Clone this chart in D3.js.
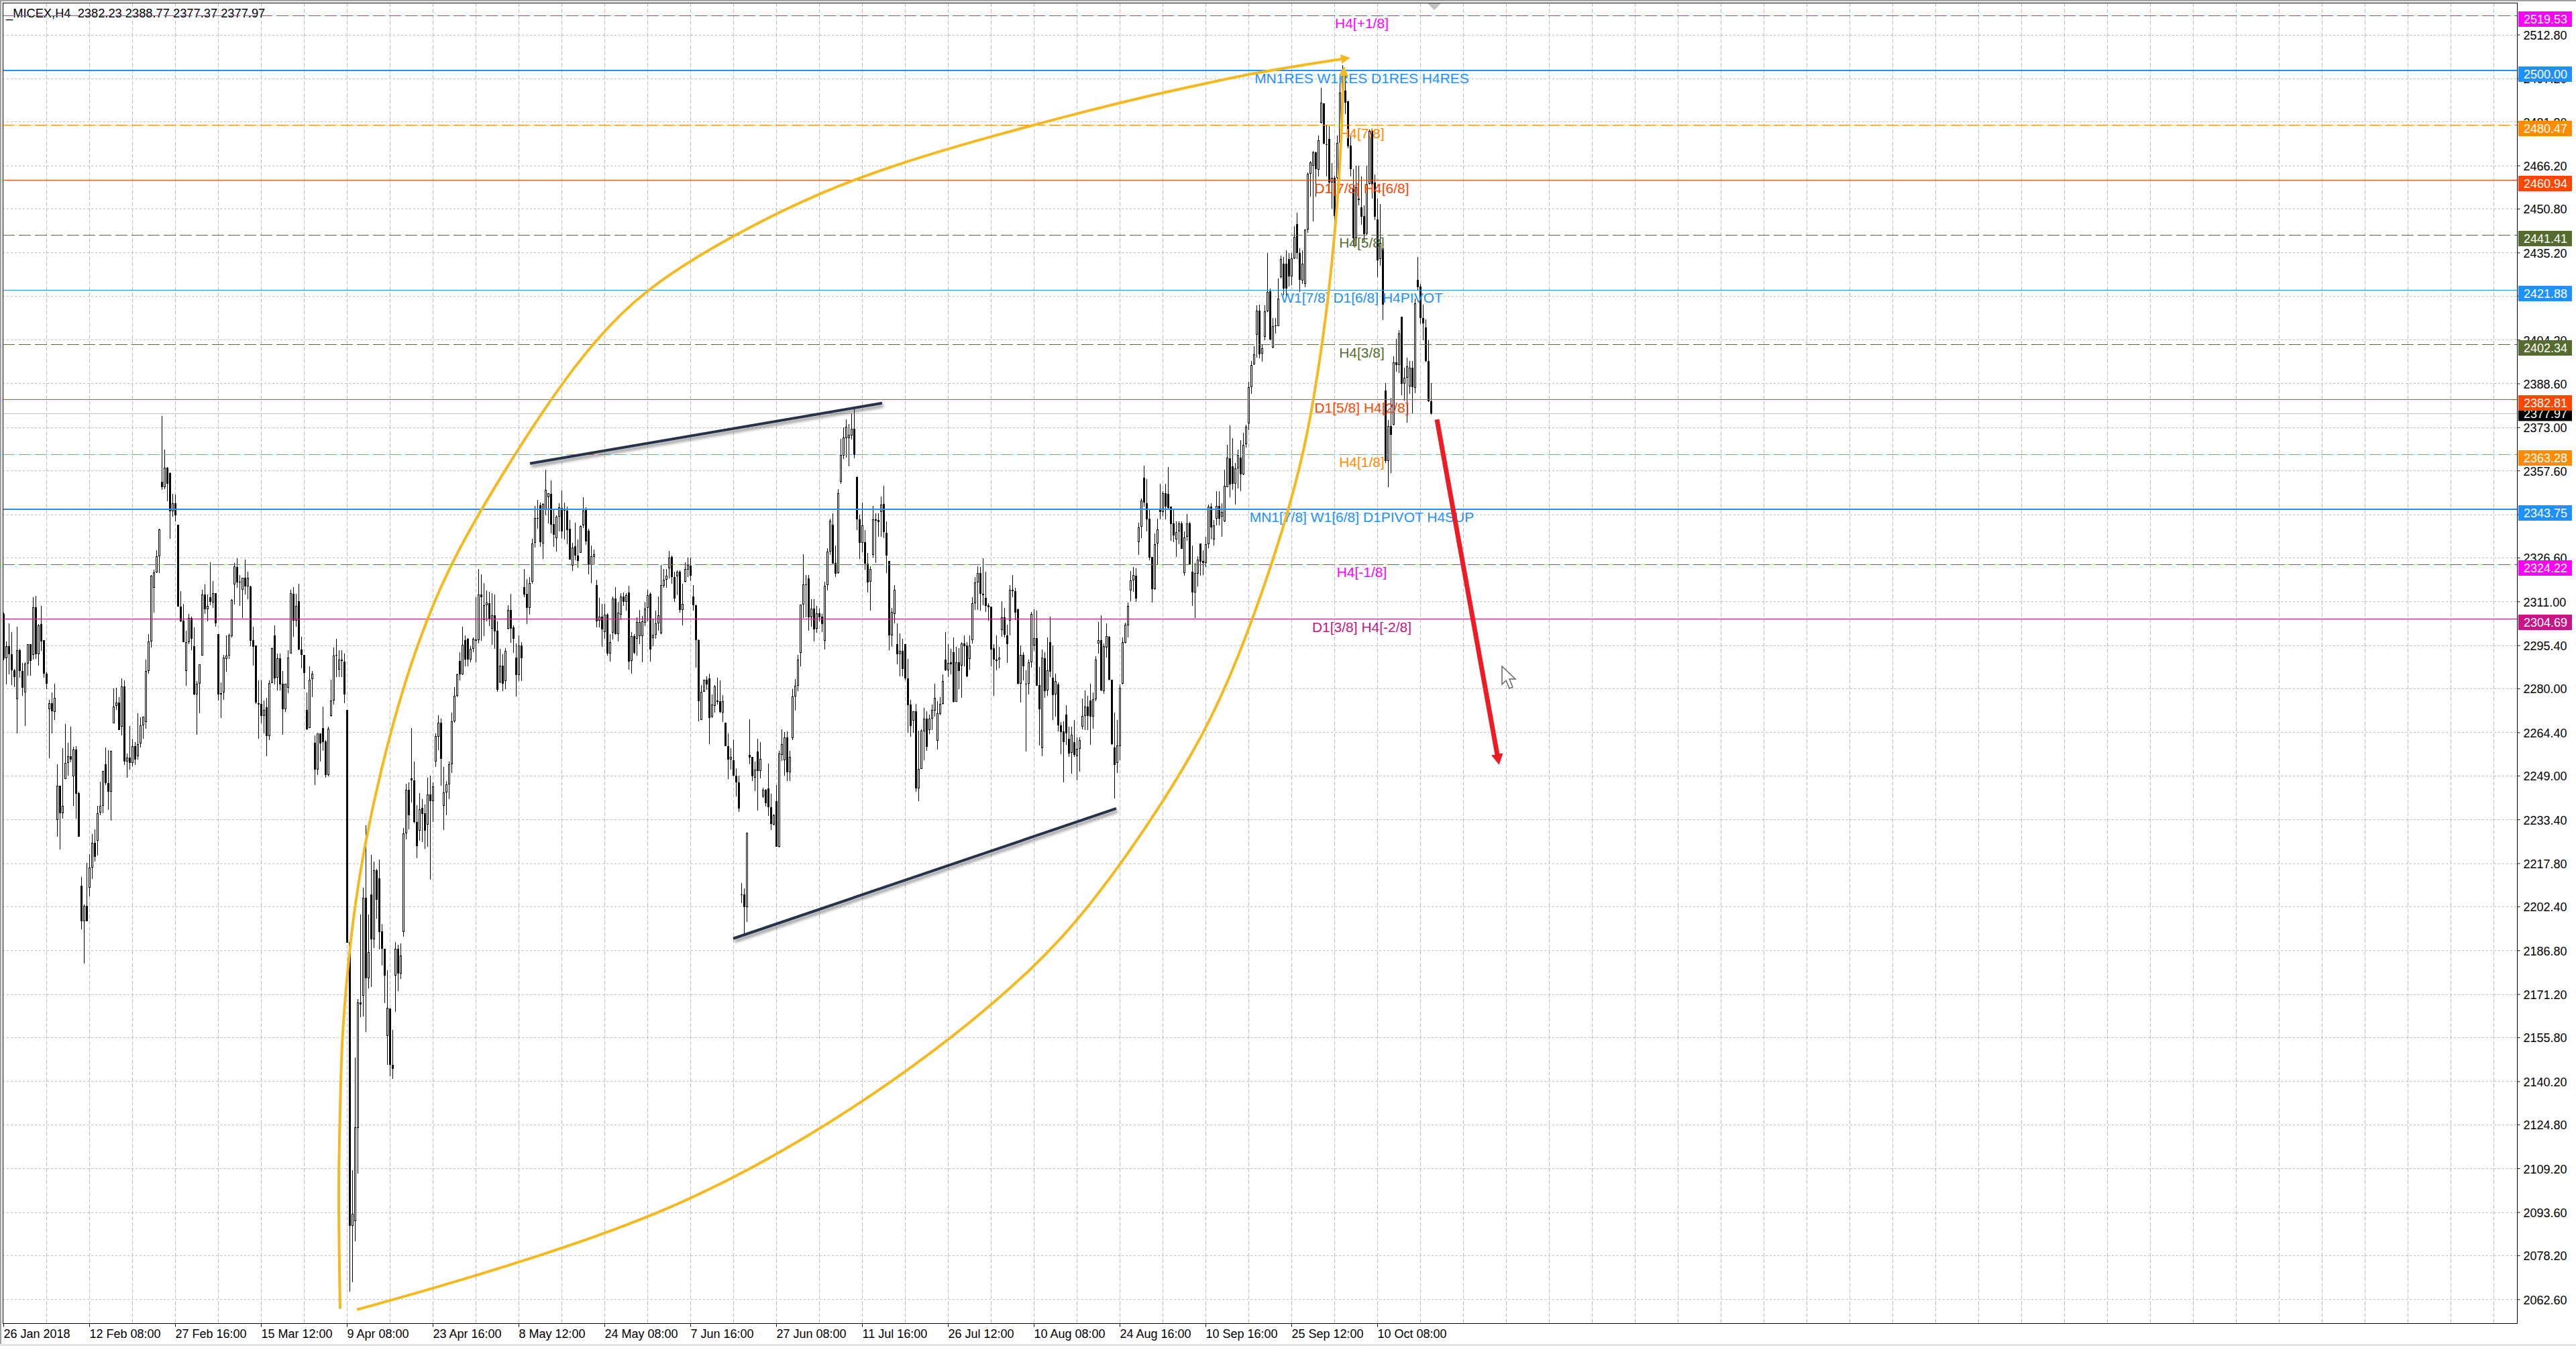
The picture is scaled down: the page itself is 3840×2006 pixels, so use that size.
<!DOCTYPE html>
<html>
<head>
<meta charset="utf-8">
<script src="https://d3js.org/d3.v7.min.js"></script>
<style>
  html, body { margin: 0; padding: 0; background: #fff; }
  svg { display: block; }
  text { font-family: "Liberation Sans", Arial, sans-serif; }
</style>
</head>
<body>
<div id="chart"></div>
<script>
// _MICEX H4 candles, one value per bar
var opens = [
2306.5,2290.8,2295.2,2292.3,2286.6,2276.2,2293.7,2286.3,2278.6,2288.9,
2295.7,2291.9,2309,2292.1,2303,2297.2,2285.4,2272.6,2274.7,2271.7,
2233.3,2245.4,2235.7,2247.9,2253.6,2255.8,2248.8,2258.2,2242.7,2209.8,
2197.1,2202.7,2209,2216.2,2225.2,2225.8,2235.9,2238.3,2253,2246.4,
2243.3,2267.7,2273.8,2274.9,2266.4,2280.8,2254,2255.4,2253.4,2259.6,
2256,2260.4,2267,2268.2,2286.3,2296.8,2315.8,2321.4,2327.2,2353.7,
2351.6,2358.5,2356.6,2343.1,2345.9,2338.2,2309.1,2304.1,2286.3,2296.5,
2305.1,2295.2,2277.8,2281.8,2291.7,2313.4,2308.3,2312.6,2310.7,2313.9,
2299.3,2277.9,2278.6,2290.6,2291.8,2298.7,2317,2323.2,2317.9,2315.2,
2319.4,2316.3,2316.4,2297.2,2295.3,2274.8,2274.6,2270.3,2273.4,2263.1,
2282,2298.9,2283.9,2290.9,2281.6,2272.6,2280.2,2292.5,2313.8,2304.1,
2311.2,2293.9,2291.9,2272.3,2265.9,2283.4,2260.6,2251.2,2264,2265.9,
2261.2,2249.2,2270.2,2275.8,2292,2286.7,2290.3,2289.6,2272.3,2189.7,
2088.6,2090.4,2123.5,2168.2,2170.6,2205.6,2176.9,2206.8,2190.7,2215.3,
2212.4,2193.5,2187.3,2156.3,2166.1,2146,2177.7,2187.3,2178.5,2193.4,
2228.5,2243.9,2248,2247.4,2232.4,2229.3,2237.4,2235.5,2231.5,2242.4,
2239.8,2254,2262.9,2267.9,2238.2,2243.1,2245.8,2253,2268.3,2277.3,
2289.9,2285.1,2297.2,2297.6,2290.2,2294.1,2297.4,2297.2,2313.5,2304.3,
2309.6,2310.3,2301.4,2306,2300.6,2282.1,2288.1,2282.7,2301.2,2307.9,
2301.8,2291,2284.7,2295.4,2316,2313.7,2308.8,2318.1,2331.8,2340.7,
2345.2,2331.6,2343.6,2348.2,2349.3,2338.6,2333.6,2341.2,2344.4,2343.7,
2343.3,2336.8,2323.7,2330.7,2327.3,2328.4,2338,2343.6,2336.2,2324,
2326.9,2316.9,2304.2,2305.5,2300.2,2306.3,2292.5,2299.8,2312,2299.4,
2306.2,2312.7,2310.9,2314.1,2289.8,2298.6,2297.8,2298.6,2298.6,2303.4,
2308.6,2313.7,2298,2299.2,2303.1,2299.6,2316.5,2318.7,2322.9,2326.9,
2319.8,2320,2321.7,2308,2318.1,2322.4,2323.8,2312.7,2309.7,2297.2,
2268.9,2278.9,2283.1,2283.5,2269.9,2273.9,2275.7,2275.5,2271.5,2267.8,
2259.4,2254.6,2254.4,2248.9,2246.7,2206.7,2206.7,2202.1,2256.5,2255.7,
2248.3,2257.5,2250.7,2241.6,2244,2244.5,2237.8,2231.6,2239.9,2223.7,
2256.5,2254.5,2262.6,2250.1,2262.4,2277.1,2281.1,2292.8,2309.9,2317.1,
2319.3,2305.4,2308.5,2301.4,2306.9,2305.6,2297,2316.9,2328.8,2338.4,
2324.6,2321,2353.6,2363,2369.2,2369.2,2370,2372.5,2355.2,2340.3,
2331.8,2332.2,2324.4,2318,2327.6,2340.3,2339.9,2342.9,2345.6,2335.5,
2325.3,2298.9,2306.6,2295.7,2292.3,2293.5,2295.7,2283.6,2274.2,2268.6,
2271.8,2244.5,2251.3,2264.8,2269.2,2265.2,2269.2,2272.2,2261.3,2271,
2274.6,2290.4,2286.6,2289.4,2292.9,2275.3,2289.4,2288.2,2296.1,2295.3,
2290.6,2297.3,2310.3,2317.8,2321.2,2313.8,2312.2,2309.7,2309.1,2294.3,
2289.8,2290.2,2300.9,2305.4,2298.9,2304.1,2315.2,2314.6,2308.3,2281.8,
2291.9,2281.8,2281.8,2289.4,2295.3,2297.9,2281.2,2258.7,2290.9,2279.2,
2296.5,2283.9,2277.8,2281.4,2267,2264.7,2270.6,2262,2257,2260.9,
2255.9,2258.5,2266.4,2270.3,2273.6,2275.8,2269.9,2276.2,2296.1,2297.3,
2279,2294.5,2298.5,2283.2,2259,2253.6,2259.5,2281.8,2296.3,2302.5,
2315,2318.6,2320.2,2332.2,2337.5,2355,2346,2340.5,2326.8,2315.5,
2331.6,2343.5,2342.9,2349.6,2349.2,2344.7,2338.7,2333,2335.9,2338.9,
2321.2,2333.9,2338.7,2321.6,2314.2,2320.8,2331.7,2325.3,2324.7,2331.4,
2344.8,2333,2340.4,2345,2341.1,2339.5,2351.8,2361.9,2359.2,2352.8,
2358.4,2362.2,2356.2,2366.9,2374.5,2387.3,2395.4,2405.9,2414.5,2399.2,
2405.3,2414.3,2421.5,2401.4,2409.3,2409.1,2426.4,2431.2,2431.3,2432.8,
2426.8,2433.2,2445.3,2435.1,2425.2,2424,2443.3,2463.2,2466.2,2470.8,
2464.6,2481.3,2488.2,2473.8,2475.6,2460.2,2461.7,2461.7,2474.2,2492.1,
2492.9,2489.1,2473.2,2458.2,2440.2,2454.3,2451.2,2448.1,2441.9,2459.7,
2478.5,2460.2,2446.9,2432.9,2436.7,2386,2361.1,2373.5,2373.9,2396.2,
2395.1,2412.3,2388.4,2390.6,2387.4,2394.2,2387,2425.5,2423.1,2411.9,2408.5,2396.6,2382.23
];
var highs = [
2307,2296.7,2303.3,2300.1,2287,2301.9,2294.1,2289,2289.4,2295.9,
2295.9,2312.6,2313.1,2302.9,2309.5,2297.3,2286,2275.9,2278.6,2281.8,
2253,2245.4,2258.8,2267.4,2260.8,2266.5,2259.2,2259.5,2243.3,2213,
2203.1,2217.9,2221.1,2228.1,2229.9,2238.3,2246.8,2250.6,2259,2258,
2257.9,2280,2280.2,2277,2283.6,2283,2256.8,2266.7,2262.2,2260.9,
2271.3,2269.7,2270.1,2290.2,2299.3,2320.3,2322.4,2329.3,2336.8,2376.9,
2365.1,2358.8,2356.9,2349.2,2349.1,2338.2,2314.6,2310.2,2300.5,2306.5,
2305.7,2301.7,2282.6,2288.7,2315.2,2317.1,2313.4,2325,2318.2,2314,
2299.3,2282.2,2291.9,2298.9,2299.7,2311.7,2324.8,2326.4,2320.4,2319.4,
2326,2321.6,2316.5,2301.9,2295.4,2282.8,2282.8,2275.8,2276.6,2282.8,
2294.5,2302.5,2292.5,2292.5,2286.3,2281.7,2293.7,2315.2,2316,2313.6,
2317.4,2298.4,2291.9,2278.6,2287.9,2286.3,2263.3,2264,2264,2273.5,
2261.6,2266.4,2283.2,2294.7,2297.6,2293.7,2293.7,2292.5,2272.3,2189.7,
2108.5,2148.7,2169.4,2199.6,2209,2231.3,2199.6,2220.8,2218.5,2215.7,
2219.1,2196.2,2187.3,2179.8,2166.1,2158.4,2189.7,2188.9,2189.3,2230.3,
2246.1,2246.7,2265.9,2254,2238.5,2242.7,2240.7,2238.6,2248.2,2248.9,
2246.7,2264,2270.5,2269.3,2252,2247,2254,2271.4,2280.6,2285.2,
2292.9,2302.1,2298.9,2298,2295,2298.2,2312.4,2322.5,2320.6,2317.5,
2314.9,2314.5,2314,2313.5,2303.8,2294.2,2292.2,2294.4,2309.7,2313.7,
2302.6,2296,2299,2296.6,2322.5,2319,2319.8,2333.2,2344.9,2347.2,
2346.1,2346,2358,2349.5,2354.1,2343.6,2341.6,2346,2350.5,2346.1,
2344.8,2340,2331.9,2339,2333,2338,2348.1,2344.5,2336.8,2331,
2329.4,2318.7,2312.3,2310.1,2310.1,2306.9,2299.4,2312.7,2316.1,2310.9,
2314,2314.3,2314,2316.5,2300.2,2299.4,2305.4,2307.9,2305.8,2310.9,
2315.1,2314.1,2304.6,2307.7,2312.7,2324,2322.5,2322.5,2329,2327.3,
2321.7,2322.1,2322.1,2317.3,2324.9,2326.6,2326.6,2316.9,2310,2297.4,
2281.3,2283.2,2284.3,2285.3,2278,2281.3,2283.9,2282.8,2277.7,2267.9,
2264,2258.8,2261.8,2251.7,2248.9,2210.7,2208.9,2229,2269,2255.7,
2254.1,2262.2,2261,2244.7,2244.1,2253.3,2242.6,2235.4,2245.7,2257.8,
2265.5,2264.5,2264.8,2257.7,2279.9,2283.3,2292,2309.9,2327.8,2320.5,
2320.5,2311.7,2311.7,2309.3,2308.5,2306.6,2318.1,2330,2340.4,2342.4,
2330.8,2350.9,2369,2372.9,2375.7,2374.1,2377.9,2379.3,2355.4,2341.9,
2346.3,2336.5,2328.4,2323.6,2345.1,2342.3,2342.3,2348.3,2352.2,2339.4,
2325.3,2308.6,2316.7,2303.3,2299.7,2297.7,2295.7,2290.6,2276,2271.9,
2274.6,2265,2265.5,2273.2,2272,2270.8,2274.4,2281.6,2275.4,2277,
2285,2300.1,2295.9,2294.1,2298.1,2294.9,2294.3,2296.5,2298.9,2296.5,
2298.9,2312.4,2319.6,2323.6,2323.2,2326.4,2321.7,2310.4,2309.1,2295.7,
2298.9,2294.8,2311,2308.6,2302.7,2316.7,2320.4,2315.8,2308.5,2295.3,
2292.9,2286.6,2290.3,2307.3,2308.3,2307.8,2287.7,2294,2293,2298.3,
2305.7,2295.3,2285.2,2282.2,2268,2268.4,2274,2266.4,2266.4,2268.8,
2262.5,2262.5,2276.4,2279.4,2277.4,2281.8,2278.6,2291.6,2303.7,2306,
2296.1,2303.3,2298.7,2283.2,2271.4,2268.8,2281.4,2298.1,2303.5,2310.5,
2321.8,2323.2,2322.9,2339.1,2347.6,2359.4,2354.6,2343.5,2326.8,2335.1,
2340.5,2353,2350.3,2353,2358.8,2344.7,2343.5,2339.5,2339.5,2339.5,
2336,2342.1,2339.3,2330.8,2324.8,2327.2,2331.7,2329.2,2333.9,2345.5,
2346,2340,2350.2,2350.2,2346,2358,2366.7,2373.7,2369.1,2360.4,
2365.1,2368.3,2371.1,2373.9,2389.2,2396.6,2401.9,2416.5,2416.6,2402.5,
2416.5,2435.1,2422.4,2411.9,2412,2426,2434,2433.6,2435.9,2435.1,
2435.1,2444.7,2449.3,2436.7,2436,2443.4,2463.7,2467.8,2471.4,2471.1,
2476.9,2493.9,2488.3,2480.5,2480.1,2467,2462.6,2476.9,2496,2502,
2498,2489.2,2476.5,2465,2466.2,2466.2,2462.2,2451.9,2466.2,2478.9,
2478.9,2463,2454.3,2452.5,2439.1,2388.6,2375.5,2383.4,2398.3,2404.5,
2407.7,2412.3,2394.3,2397.8,2396.6,2396.6,2418.9,2433.6,2424,2416.7,2411.4,2403.9,2388.77
];
var lows = [
2290.1,2281.4,2285,2281.2,2280.6,2264.1,2283.8,2277.3,2266.7,2284.6,
2284.6,2290.2,2290.6,2288.2,2293.3,2283.9,2279.8,2255.2,2264.1,2268.7,
2227.3,2222.7,2233.6,2247.9,2249,2253.8,2238.3,2233.7,2227.2,2194.2,
2182,2197.1,2206,2212.2,2218.4,2220.6,2234.9,2235.5,2245.7,2236.7,
2232.9,2267.7,2272.3,2265.3,2263.2,2252.7,2248.2,2251.1,2252.4,2252.8,
2254.8,2259,2262,2265.8,2285.4,2294.5,2307,2321.2,2321.2,2350.8,
2351,2346.7,2333.3,2341.1,2339.5,2309.1,2303.7,2296.5,2281,2295.9,
2293.7,2277.6,2263.5,2271.2,2291.7,2306.5,2303.9,2309.7,2308.6,2302.1,
2275.8,2269.6,2276,2286,2290.6,2298.1,2310,2315.8,2309.4,2305,
2313.4,2311.8,2295.1,2288.2,2274.6,2262.2,2267.5,2264.1,2255.8,2261.6,
2281.9,2281.4,2279.4,2279.4,2263.5,2271.7,2278.4,2292.4,2298.5,2302.1,
2293.7,2287.1,2279.7,2265.3,2265.9,2277,2245.7,2249.2,2254,2257.8,
2248.3,2248.8,2270,2274.2,2284,2284,2284.2,2274.8,2189.6,2065.3,
2068.6,2083.3,2107.3,2163,2163.3,2157.8,2173.2,2173.7,2187.6,2198,
2187.1,2181.3,2168,2146,2142,2141.1,2164.9,2172.4,2176.5,2191.6,
2226.4,2229.9,2239.4,2232.1,2219.6,2225.8,2225.4,2223,2223.6,2212,
2232.4,2252,2258,2245.5,2229.7,2234.8,2240.7,2250,2267.9,2277,
2283,2284.9,2287.8,2288,2289.3,2293,2289.3,2296,2297,2298.6,
2303.8,2302.2,2295.6,2294.2,2278.9,2281.9,2279.1,2279.7,2301,2296.2,
2292.6,2277.1,2282.7,2282.7,2312.4,2303,2306.2,2317.3,2330.3,2337,
2330.4,2326.2,2341.6,2338.8,2335.2,2330.4,2328.8,2336,2333.2,2333,
2331.5,2325.9,2321.9,2325.7,2323,2328.4,2337.2,2331.2,2320.7,2317.5,
2324.1,2301.8,2301.8,2294.9,2297.6,2291.8,2289.6,2297.4,2299.1,2296.8,
2304.4,2309.3,2307.8,2286.8,2285.3,2292.2,2291.8,2295.8,2289.3,2302.2,
2303.8,2289.7,2295,2297.6,2300.6,2299.4,2315.9,2315.9,2319.3,2317.3,
2310.8,2313.3,2307,2302.6,2317.7,2319.8,2318.3,2307.7,2287.5,2268.4,
2268.9,2278.8,2279.5,2260.1,2269.5,2271.5,2274.3,2271.1,2268.1,2259.4,
2247.9,2251.2,2248.7,2241.5,2236,2203.7,2192.4,2196.8,2253.1,2247,
2243.5,2236.5,2248.1,2241,2237.9,2234.6,2229.6,2231.3,2223.6,2223.5,
2254.3,2249.1,2247,2247,2261.6,2272.1,2279.1,2287.9,2305.2,2305.4,
2300.6,2302,2296.8,2299.8,2303.8,2300.2,2293.8,2314.9,2327.6,2324.5,
2319.7,2320.9,2352.9,2361.8,2362.2,2359,2368.6,2362,2336.3,2326.2,
2328.5,2322.4,2314.2,2307.7,2326.6,2324.8,2333.9,2333.9,2333.5,2321,
2293.7,2294.9,2303.3,2288.6,2284.4,2284.4,2283,2264.3,2262.9,2264.2,
2243.2,2239.8,2251.3,2254.5,2257.9,2263.7,2265.2,2270,2258.2,2270.5,
2274.2,2286.2,2284.2,2285,2275,2275.3,2279.8,2276.6,2287.9,2284.2,
2286.7,2296.1,2308,2308,2307.7,2309.7,2307.3,2304.1,2287.8,2277.3,
2286.6,2287.2,2298.5,2298.1,2289,2298.9,2312.4,2304.5,2281.4,2275,
2283,2257.5,2277.8,2287.4,2293.3,2280.9,2259.7,2255.9,2276.8,2277.3,
2284.2,2268.7,2270,2264.7,2256.7,2246.5,2260,2255.7,2249.7,2255.7,
2247.3,2250.3,2265.4,2265.2,2265.2,2259.9,2265.6,2275.4,2292.5,2279,
2278.2,2291,2283,2260,2240.8,2249.9,2254.5,2281.4,2296,2298.1,
2311,2314.4,2310.9,2327.6,2333.5,2344.7,2335.9,2325.6,2310.6,2315.2,
2324,2340.3,2341.5,2340.3,2343.9,2332.6,2332.2,2326.8,2331.5,2329.6,
2320.2,2332.7,2324,2309.3,2305.1,2316.4,2320.2,2320.4,2323.2,2330,
2333,2331,2338,2338,2334,2339.3,2351.6,2348.2,2350.8,2345.4,
2351.2,2350.2,2356,2365.9,2372.1,2384.8,2395.2,2397.8,2397.6,2396.3,
2404.1,2414.1,2404.1,2401.1,2406.5,2408.9,2426,2420,2419.6,2423.2,
2423.6,2432.8,2432.8,2421.2,2424,2422.8,2442.3,2455,2446.3,2455,
2462.2,2481.2,2473.8,2462.2,2456.3,2450.7,2445.5,2461.4,2461.4,2492,
2484.5,2472.2,2462.2,2437.5,2437.5,2451.9,2445.1,2439.1,2441.5,2459.4,
2454.3,2446.7,2426.4,2430.4,2411.1,2360.4,2351.6,2356.8,2373.7,2392.8,
2392.2,2384.4,2382.6,2374.7,2385,2377.9,2385.2,2422,2409.7,2404.1,2396.2,2382.1,2377.37
];
var closes = [
2290.9,2295.2,2292.1,2286.6,2284.2,2293.7,2286.3,2280.2,2288.9,2295.7,
2289.8,2309,2292.1,2302.5,2296.7,2285.2,2281.8,2274.7,2271.8,2276.8,
2245.4,2235.7,2238.2,2253.6,2255.8,2254.6,2258.2,2242.6,2227.2,2197.1,
2202.7,2197.1,2216.2,2225.2,2220,2235.7,2238.3,2250.6,2246.4,2243.3,
2257.9,2273.6,2274.9,2265.3,2280.8,2254,2255.4,2253.4,2259.6,2254.8,
2260.1,2267,2270.1,2286.3,2296.8,2320.2,2321.4,2327.2,2336.7,2351.6,
2358.6,2352.9,2343.1,2346,2341.7,2309.1,2303.8,2296.5,2296.5,2305.1,
2297.7,2277.8,2281.8,2288.7,2313.4,2308.2,2309.5,2310.9,2314,2303.3,
2277.8,2278.4,2291.1,2291.8,2298.8,2311.6,2323.4,2317.8,2317.8,2319.4,
2316.3,2319.4,2296.9,2294.9,2275,2274.4,2270.3,2272.5,2263.1,2282,
2294.4,2283.6,2290.9,2281.4,2272.6,2281.6,2291.1,2313.9,2304.1,2309.3,
2293.9,2291.9,2285.5,2265.5,2283.2,2285.4,2251.2,2264,2260.5,2261,
2249.2,2265.6,2275.8,2291.8,2291.8,2290.3,2289.8,2277.8,2189.6,2088.6,
2092.9,2123.7,2168.2,2167.6,2205.6,2176.9,2186.2,2190.7,2215.3,2204.7,
2193.4,2187.3,2177.9,2166.4,2146,2144.7,2187.3,2178.5,2185,2228.5,
2243.9,2234.8,2247.4,2232.4,2224,2237,2235.4,2229.4,2242.2,2239.8,
2245.2,2263.1,2267.9,2255,2243.1,2245.8,2253,2268.3,2277.3,2285.1,
2285.1,2295.5,2290.2,2290.2,2294.2,2297.6,2297,2313.5,2312.5,2309.7,
2310.5,2304.6,2306,2300.4,2279.5,2288.2,2281.7,2293.4,2307.9,2301.4,
2297.8,2284.7,2295.4,2290.9,2313.5,2308.8,2317.5,2331.6,2340.8,2340.5,
2332,2345.6,2350.7,2349.5,2338.4,2334.8,2341.2,2344.6,2336,2343.3,
2336.4,2326,2330.3,2327.3,2325.4,2337.8,2343.4,2332.4,2324,2327,
2327.7,2303.8,2305.5,2301.1,2306.2,2292.5,2296.4,2312,2299.4,2307.1,
2312.7,2310.9,2313.3,2289.7,2298.6,2292.6,2303.6,2303.6,2303.8,2308.4,
2313.3,2293.8,2299.2,2303.1,2306,2316.7,2318.7,2320.1,2326.7,2319.8,
2312.1,2321.5,2308,2310.1,2322.5,2324.1,2320.1,2309.7,2297.2,2275.5,
2278.9,2283.1,2281.5,2269.5,2274.3,2280.7,2275.3,2271.7,2275.4,2259.4,
2254.7,2255.6,2248.9,2246.5,2237.2,2206.6,2202.1,2228.5,2255.5,2248.8,
2251.2,2250.7,2255,2244,2239.2,2237.8,2231.7,2234.8,2223.6,2256.9,
2260.2,2262.6,2250.1,2255.7,2277.1,2281.1,2290.2,2309.9,2317.1,2316.9,
2305.4,2308.5,2301,2306.9,2305.4,2303,2316.5,2328.7,2339.8,2324.5,
2320.9,2349.5,2363.2,2369.4,2373.2,2370.3,2372.5,2363.2,2340.3,2331.8,
2338,2324.4,2317.8,2322.6,2340.3,2339.8,2339.3,2345.5,2335.7,2327.3,
2298.9,2307.3,2315.2,2292.1,2293.5,2287,2283.6,2274.1,2266.6,2271.8,
2244.5,2251.3,2265,2269.2,2259.3,2269.2,2272.4,2276.6,2271.2,2274.6,
2282.6,2286.6,2289.2,2288.6,2275.2,2289.4,2286.2,2296.1,2295.1,2284.4,
2295.3,2310.3,2317.8,2321.2,2313.6,2313.2,2309.4,2308.9,2293.9,2290.2,
2290.3,2291.1,2305.4,2299.1,2295.7,2315.2,2314.6,2307.1,2281.8,2292,
2287.9,2281.6,2289.4,2306.6,2297.9,2281,2272.6,2291,2279,2286.6,
2286,2277.7,2282.6,2266.8,2264.4,2261,2264,2256.9,2263.5,2256.3,
2258.6,2261.7,2270.3,2273.6,2270.3,2270.1,2276.2,2290.4,2297.3,2279.2,
2295.1,2298.7,2283.2,2260.2,2252.7,2259.7,2280.2,2296.4,2302.7,2309.5,
2318.6,2320.4,2312,2337.4,2346.9,2346.3,2340.3,2326.5,2315.5,2331.4,
2336.7,2342.9,2349.6,2344.7,2344.4,2338.6,2334.6,2335.7,2338.9,2329.8,
2333.8,2338.9,2324.2,2314.2,2321,2326,2325.2,2324.7,2331.4,2344.8,
2337.3,2338,2345,2340.4,2342.8,2352.1,2362.2,2352.6,2352.8,2358.4,
2363.1,2356.2,2366.7,2373.2,2387.3,2395.2,2399,2414.5,2399,2401.1,
2414.2,2421.2,2404.3,2409.1,2408.9,2418.9,2432.8,2422.4,2422.4,2426.8,
2433.2,2440.7,2435.1,2425.6,2431.3,2443.3,2463.2,2467.4,2470.8,2465,
2475.1,2488.5,2474,2473.4,2460.2,2461.7,2448.1,2474.2,2492.1,2498,
2488.6,2473,2464.8,2440.3,2458.4,2453.9,2448,2441.7,2459.4,2478.5,
2459.4,2448,2432.4,2438.7,2416.6,2361.1,2373.5,2370.3,2396.2,2395.2,
2406.4,2388.4,2390.6,2394.6,2394.2,2387.2,2417.1,2422.8,2411.9,2409.9,2396.6,2382.2,2377.97
];

// axis labels
var priceTicks = [2512.8,2497.2,2481.8,2466.2,2450.8,2435.2,2419.8,2404.2,2388.6,2373,2357.6,2342,2326.6,2311,2295.4,2280,2264.4,2249,2233.4,2217.8,2202.4,2186.8,2171.2,2155.8,2140.2,2124.8,2109.2,2093.6,2078.2,2062.6];
var timeLabels = ["26 Jan 2018","12 Feb 08:00","27 Feb 16:00","15 Mar 12:00","9 Apr 08:00","23 Apr 16:00","8 May 12:00","24 May 08:00","7 Jun 16:00","27 Jun 08:00","11 Jul 16:00","26 Jul 12:00","10 Aug 08:00","24 Aug 16:00","10 Sep 16:00","25 Sep 12:00","10 Oct 08:00"];

// murrey levels and their captions
var levelPrices = [2519.53,2500,2480.47,2460.94,2441.41,2421.88,2402.34,2382.81,2363.28,2343.75,2324.22,2304.69];
var levelTexts = ["H4[+1/8]","MN1RES W1RES D1RES H4RES","H4[7/8]","D1[7/8] H4[6/8]","H4[5/8]","W1[7/8] D1[6/8] H4PIVOT","H4[3/8]","D1[5/8] H4[2/8]","H4[1/8]","MN1[7/8] W1[6/8] D1PIVOT H4SUP","H4[-1/8]","D1[3/8] H4[-2/8]"];
var lastPrice = 2377.97;
var titleText = "_MICEX,H4  2382.23 2388.77 2377.37 2377.97";

// hand drawn objects as [bar, price]
var arcUpper = [[125.5,2059.2],[124.75,2102.4],[125.5,2128.7],[126,2153],[128,2177.4],[130.75,2201.8],[135,2226.1],[140.5,2250.5],[148.75,2280.1],[157.75,2304.7],[167.75,2326.7],[186.75,2358],[213,2396.1],[237.5,2421.9],[274.25,2442.7],[305,2457],[336.5,2467.8],[366.5,2476.1],[397,2484],[427.5,2491.2],[448.75,2495.5],[466.75,2499.3],[498.75,2504.1]];
var arcLower = [[131.75,2058.9],[160,2066.4],[198.75,2077.6],[248.75,2094.1],[298.75,2119],[348.75,2151.4],[386,2181.9],[404.5,2202.2],[423.75,2227.1],[448.75,2264.8],[463.75,2299.4],[476.25,2334.1],[484.5,2363.4],[488.25,2382.5],[492,2405.7],[495,2429.6],[498,2461.3],[499.25,2493.3],[499.5,2498.4]];
var trendTop = [[196.25,2360.1],[327.5,2381.6]];
var trendBottom = [[272,2191],[414.75,2237.3]];
var forecast = [[534.25,2375.8],[556.75,2256.4]];

// styles
var levelStyles = [
  { color: "#ff00ff", width: 1, dash: "18 6" },
  { color: "#1e90ff", width: 2, dash: null },
  { color: "#ff8c00", width: 1, dash: "18 6" },
  { color: "#ff4500", width: 1, dash: null },
  { color: "#556b2f", width: 1, dash: "18 6" },
  { color: "#1e90ff", width: 1, dash: null },
  { color: "#556b2f", width: 1, dash: "18 6" },
  { color: "#ff4500", width: 1, dash: null },
  { color: "#ff8c00", width: 1, dash: "18 6" },
  { color: "#1e90ff", width: 2, dash: null },
  { color: "#ff00ff", width: 1, dash: "18 6" },
  { color: "#c71585", width: 1, dash: null }
];

var W = 3840, H = 2006;
var plot = { left: 4, top: 4, right: 3752, bottom: 1972 };

var svg = d3.select("#chart").append("svg")
  .attr("width", W)
  .attr("height", H);

svg.append("rect").attr("width", W).attr("height", H).attr("fill", "#fff");
// window edges
svg.append("rect").attr("width", W).attr("height", 2).attr("fill", "#a0a0a0");
svg.append("rect").attr("width", 2).attr("height", H).attr("fill", "#a0a0a0");
svg.append("rect").attr("y", H - 3).attr("width", W).attr("height", 3).attr("fill", "#e4e4e4");

// scales, one bar every 4 px
var x = d3.scaleLinear().domain([0, 532]).range([5, 2133]);
var y = d3.scaleLinear().domain([2512.8, 2062.6]).range([51.5, 1936.3]);
var crisp = function (v) { return Math.round(v) + 0.5; };

var bars = d3.range(opens.length);

// grid
var gridBars = d3.range(16, 937, 16);
svg.append("g").selectAll("line")
  .data(gridBars)
  .enter().append("line")
  .attr("x1", function (d) { return crisp(x(d)); })
  .attr("x2", function (d) { return crisp(x(d)); })
  .attr("y1", plot.top)
  .attr("y2", plot.bottom)
  .attr("stroke", "#c0c0c0")
  .attr("stroke-dasharray", "6 3");
svg.append("g").selectAll("line")
  .data(priceTicks)
  .enter().append("line")
  .attr("x1", plot.left)
  .attr("x2", plot.right)
  .attr("y1", function (d) { return crisp(y(d)); })
  .attr("y2", function (d) { return crisp(y(d)); })
  .attr("stroke", "#c0c0c0")
  .attr("stroke-dasharray", "3 3");

// title
svg.append("text")
  .attr("x", 9)
  .attr("y", 26)
  .attr("font-size", 18.3)
  .attr("fill", "#000")
  .style("white-space", "pre")
  .text(titleText);

// last price line
svg.append("line")
  .attr("x1", plot.left)
  .attr("x2", plot.right)
  .attr("y1", crisp(y(lastPrice)))
  .attr("y2", crisp(y(lastPrice)))
  .attr("stroke", "#c0c0c0");

// candles
var candles = svg.append("g").attr("shape-rendering", "crispEdges");
candles.selectAll("rect.wick")
  .data(bars)
  .enter().append("rect")
  .attr("class", "wick")
  .attr("x", function (i) { return Math.round(x(i)); })
  .attr("y", function (i) { return Math.round(y(highs[i])); })
  .attr("width", 1)
  .attr("height", function (i) { return Math.max(1, Math.round(y(lows[i])) - Math.round(y(highs[i]))); })
  .attr("fill", "#000");
candles.selectAll("rect.body")
  .data(bars)
  .enter().append("rect")
  .attr("class", "body")
  .attr("x", function (i) { return Math.round(x(i)) - 1; })
  .attr("y", function (i) { return Math.round(y(Math.max(opens[i], closes[i]))); })
  .attr("width", 3)
  .attr("height", function (i) {
    return Math.max(1, Math.round(y(Math.min(opens[i], closes[i]))) - Math.round(y(Math.max(opens[i], closes[i]))));
  })
  .attr("fill", "#000");
// up bars are hollow
candles.selectAll("rect.hollow")
  .data(bars.filter(function (i) {
    return closes[i] > opens[i] && Math.round(y(opens[i])) - Math.round(y(closes[i])) > 2;
  }))
  .enter().append("rect")
  .attr("class", "hollow")
  .attr("x", function (i) { return Math.round(x(i)); })
  .attr("y", function (i) { return Math.round(y(closes[i])) + 1; })
  .attr("width", 1)
  .attr("height", function (i) { return Math.round(y(opens[i])) - Math.round(y(closes[i])) - 2; })
  .attr("fill", "#fff");

// levels
svg.append("g").selectAll("line")
  .data(levelPrices)
  .enter().append("line")
  .attr("x1", plot.left)
  .attr("x2", plot.right)
  .attr("y1", function (d) { return y(d); })
  .attr("y2", function (d) { return y(d); })
  .attr("stroke", function (d, i) { return levelStyles[i].color; })
  .attr("stroke-width", function (d, i) { return levelStyles[i].width; })
  .attr("stroke-dasharray", function (d, i) { return levelStyles[i].dash; })
  .attr("shape-rendering", "crispEdges");

svg.append("g").selectAll("text")
  .data(levelPrices)
  .enter().append("text")
  .attr("x", 2030)
  .attr("y", function (d) { return y(d) + 19; })
  .attr("text-anchor", "middle")
  .attr("font-size", 21)
  .attr("fill", function (d, i) { return levelStyles[i].color; })
  .text(function (d, i) { return levelTexts[i]; });

// frame and axes
svg.append("rect")
  .attr("x", plot.left + 0.5)
  .attr("y", plot.top + 0.5)
  .attr("width", plot.right - plot.left)
  .attr("height", plot.bottom - plot.top)
  .attr("fill", "none")
  .attr("stroke", "#000");

var yAxis = d3.axisRight(y)
  .tickValues(priceTicks)
  .tickFormat(d3.format(".2f"))
  .tickSize(4)
  .tickPadding(5);
var yAxisG = svg.append("g")
  .attr("transform", "translate(" + (plot.right + 0.5) + ",0)")
  .call(yAxis);
yAxisG.select(".domain").remove();
yAxisG.selectAll("text")
  .attr("font-family", "Liberation Sans")
  .attr("font-size", 18)
  .attr("fill", "#000")
  .attr("dy", "0.38em");
yAxisG.selectAll("line").attr("stroke", "#000");

var xAxis = d3.axisBottom(x)
  .tickValues(timeLabels.map(function (d, i) { return i * 32; }))
  .tickFormat(function (d, i) { return timeLabels[i]; })
  .tickSize(5)
  .tickPadding(4);
var xAxisG = svg.append("g")
  .attr("transform", "translate(0," + (plot.bottom + 0.5) + ")")
  .call(xAxis);
xAxisG.select(".domain").remove();
xAxisG.selectAll("text")
  .attr("font-family", "Liberation Sans")
  .attr("font-size", 18)
  .attr("fill", "#000")
  .attr("text-anchor", "start");
xAxisG.selectAll("line").attr("stroke", "#000");

// price tags on the scale
var tags = svg.append("g");
tags.append("rect")
  .attr("x", plot.right + 2)
  .attr("y", y(lastPrice) - 11.5)
  .attr("width", 80)
  .attr("height", 23)
  .attr("fill", "#000");
tags.append("text")
  .attr("x", plot.right + 10)
  .attr("y", y(lastPrice) + 7)
  .attr("font-size", 18)
  .attr("fill", "#fff")
  .text(d3.format(".2f")(lastPrice));
tags.selectAll("rect.level")
  .data(levelPrices)
  .enter().append("rect")
  .attr("class", "level")
  .attr("x", plot.right + 2)
  .attr("y", function (d) { return Math.round(y(d) - 6.5); })
  .attr("width", 80)
  .attr("height", 23)
  .attr("fill", function (d, i) { return levelStyles[i].color; });
tags.selectAll("text.level")
  .data(levelPrices)
  .enter().append("text")
  .attr("class", "level")
  .attr("x", plot.right + 10)
  .attr("y", function (d) { return Math.round(y(d) - 6.5) + 18; })
  .attr("font-size", 18)
  .attr("fill", "#fff")
  .text(d3.format(".2f"));

// arrow heads
var defs = svg.append("defs");
function addArrow(id, color, len, wide) {
  defs.append("marker")
    .attr("id", id)
    .attr("markerUnits", "userSpaceOnUse")
    .attr("markerWidth", len)
    .attr("markerHeight", wide)
    .attr("refX", 1)
    .attr("refY", wide / 2)
    .attr("orient", "auto")
    .append("path")
    .attr("d", "M0,0L" + len + "," + (wide / 2) + "L0," + wide + "Z")
    .attr("fill", color);
}
addArrow("headGold", "#f5b91f", 14, 14);
addArrow("headRed", "#ed1c24", 16, 18);

var line = d3.line()
  .x(function (d) { return x(d[0]); })
  .y(function (d) { return y(d[1]); });
var curve = d3.line()
  .x(function (d) { return x(d[0]); })
  .y(function (d) { return y(d[1]); })
  .curve(d3.curveBasis);

// trend lines with their shadow
var trendFilter = defs.append("filter").attr("id", "shade")
  .attr("x", "-5%").attr("y", "-50%").attr("width", "110%").attr("height", "220%");
trendFilter.append("feDropShadow")
  .attr("dx", 2).attr("dy", 4).attr("stdDeviation", 2)
  .attr("flood-color", "#000").attr("flood-opacity", 0.45);
svg.append("g").selectAll("path")
  .data([trendTop, trendBottom])
  .enter().append("path")
  .attr("d", line)
  .attr("fill", "none")
  .attr("stroke", "#27334a")
  .attr("stroke-width", 4)
  .attr("filter", "url(#shade)");

svg.append("g").selectAll("path")
  .data([arcUpper, arcLower])
  .enter().append("path")
  .attr("d", curve)
  .attr("fill", "none")
  .attr("stroke", "#f5b91f")
  .attr("stroke-width", 4)
  .attr("marker-end", "url(#headGold)");

svg.append("path")
  .attr("d", line(forecast))
  .attr("fill", "none")
  .attr("stroke", "#ed1c24")
  .attr("stroke-width", 7)
  .attr("marker-end", "url(#headRed)");

// chart shift marker and mouse pointer
svg.append("path")
  .attr("d", "M2128,5L2148,5L2138,15Z")
  .attr("fill", "#c0c0c0");
svg.append("path")
  .attr("transform", "translate(2239,993)")
  .attr("d", "M0,0L0,27L6,21L11,33L16,31L11,19L20,19Z")
  .attr("fill", "#fff")
  .attr("stroke", "#666")
  .attr("stroke-width", 1.5);
</script>
</body>
</html>
